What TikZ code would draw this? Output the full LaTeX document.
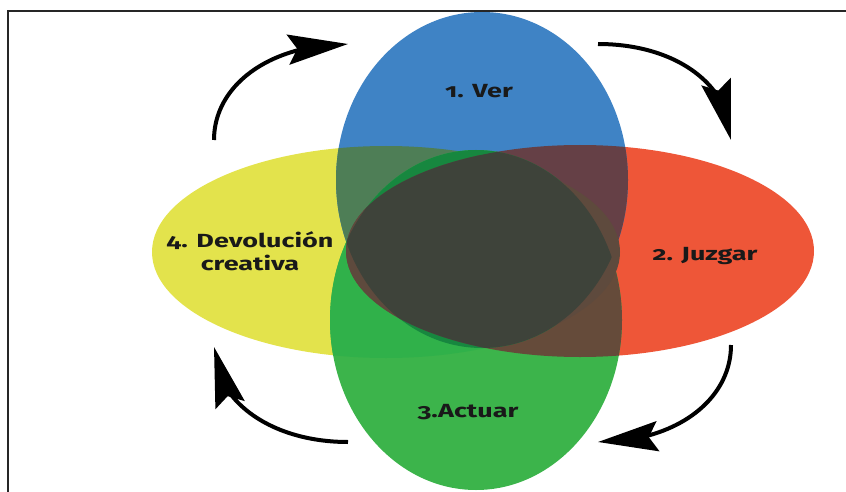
\documentclass[tikz,border=0pt]{standalone}
\usepackage{fontspec}
\setmainfont[Numbers=OldStyle]{Fira Sans}
\usetikzlibrary{arrows.meta,bending}

\definecolor{verBlue}{HTML}{3F83C5}
\definecolor{juzRed}{HTML}{EE5638}
\definecolor{actGreen}{HTML}{3CB44B}
\definecolor{devYellow}{HTML}{E3E34C}
\definecolor{verDev}{HTML}{4E7E56}
\definecolor{verJuz}{HTML}{654046}
\definecolor{actJuz}{HTML}{654B3A}
\definecolor{actDev}{HTML}{30B14A}
\definecolor{verAct}{HTML}{17873F}
\definecolor{lensBrown}{HTML}{5E4A3D}
\definecolor{centro}{HTML}{3E433A}

\tikzset{
  ciclo/.style={line width=4pt, -{Stealth[length=60pt,width=30pt,inset=9pt,flex=0.8]}},
  etiqueta/.style={font=\bfseries\fontsize{19}{23}\selectfont, xscale=1.42,
                   align=center, text=black!90, inner sep=0pt},
  bluEll/.style={insert path={(\bx,\by) ellipse [x radius=\vr pt, y radius=\bry pt]}},
  grnEll/.style={insert path={(\gx,\gy) ellipse [x radius=\vr pt, y radius=\gry pt]}},
  yelEll/.style={insert path={(\yx,\yy) ellipse [x radius=\hr pt, y radius=\hry pt]}},
  redEll/.style={insert path={(\rx,\ry) ellipse [x radius=\hr pt, y radius=\hry pt]}},
}

\begin{document}
\begin{tikzpicture}[x=1pt,y=-1pt]
    \useasboundingbox (0,0) rectangle (846,492);
    \pgfmathsetmacro {\vr }{146}   %half width of vertical ellipses
    \pgfmathsetmacro {\hr }{234}   %half width of horizontal ellipses
    \pgfmathsetmacro {\hry}{106}   %half height of horizontal ellipses
    \pgfmathsetmacro {\bry}{168}   %half height of blue ellipse
    \pgfmathsetmacro {\gry}{170}   %half height of green ellipse
    \pgfmathsetmacro {\bx}{482} \pgfmathsetmacro {\by}{180}  %Ver
    \pgfmathsetmacro {\gx}{476} \pgfmathsetmacro {\gy}{320}  %Actuar
    \pgfmathsetmacro {\yx}{386} \pgfmathsetmacro {\yy}{252}  %Devolucion
    \pgfmathsetmacro {\rx}{580} \pgfmathsetmacro {\ry}{251}  %Juzgar

    %Frame (top and left side only)
    \draw[line width=1.2pt, black!85] (8,492) -- (8,11) -- (846,11);

    %Draw the four ellipses
    \fill[devYellow, yelEll];
    \fill[juzRed, redEll];
    \fill[verBlue, bluEll];
    \fill[actGreen, grnEll];

    %Pairwise overlaps
    \begin{scope}
        \clip[bluEll];
        \fill[verDev, yelEll];
        \fill[verJuz, redEll];
    \end{scope}
    \begin{scope}
        \clip[grnEll];
        \fill[actDev, yelEll];
        \fill[actJuz, redEll];
    \end{scope}
    \begin{scope}
        \clip[bluEll]; \clip[grnEll];
        \fill[verAct] (300,100) rectangle (660,400);
    \end{scope}
    \begin{scope}
        \clip[redEll]; \clip[yelEll];
        \fill[lensBrown] (300,100) rectangle (660,400);
    \end{scope}
    %Centre
    \begin{scope}
        \clip[bluEll]; \clip[grnEll]; \clip[redEll];
        \fill[centro] (300,100) rectangle (660,400);
    \end{scope}

    %Labels
    \node[etiqueta, anchor=base] (ver)    at (479,98)  {1. Ver};
    \node[etiqueta, anchor=base] (juzgar) at (705,260) {2. Juzgar};
    \node[etiqueta, anchor=base] (actuar) at (468,417) {3.Actuar};
    \node[etiqueta] (devolucion) at (250,251) {4. Devolución\\creativa};

    %Cycle arrows
    \coordinate (tlA) at (214,140); \coordinate (tlB) at (348,44);
    \coordinate (trA) at (598,44);  \coordinate (trB) at (731,140);
    \coordinate (brA) at (731,345); \coordinate (brB) at (598,442);
    \coordinate (blA) at (348,442); \coordinate (blB) at (214,347);
    \draw[ciclo] (tlA) .. controls (214,85) and (270,44) .. (tlB);
    \draw[ciclo] (trA) .. controls (676,44) and (731,85) .. (trB);
    \draw[ciclo] (brA) .. controls (731,400) and (676,442) .. (brB);
    \draw[ciclo] (blA) .. controls (270,442) and (214,400) .. (blB);
\end{tikzpicture}
\end{document}
